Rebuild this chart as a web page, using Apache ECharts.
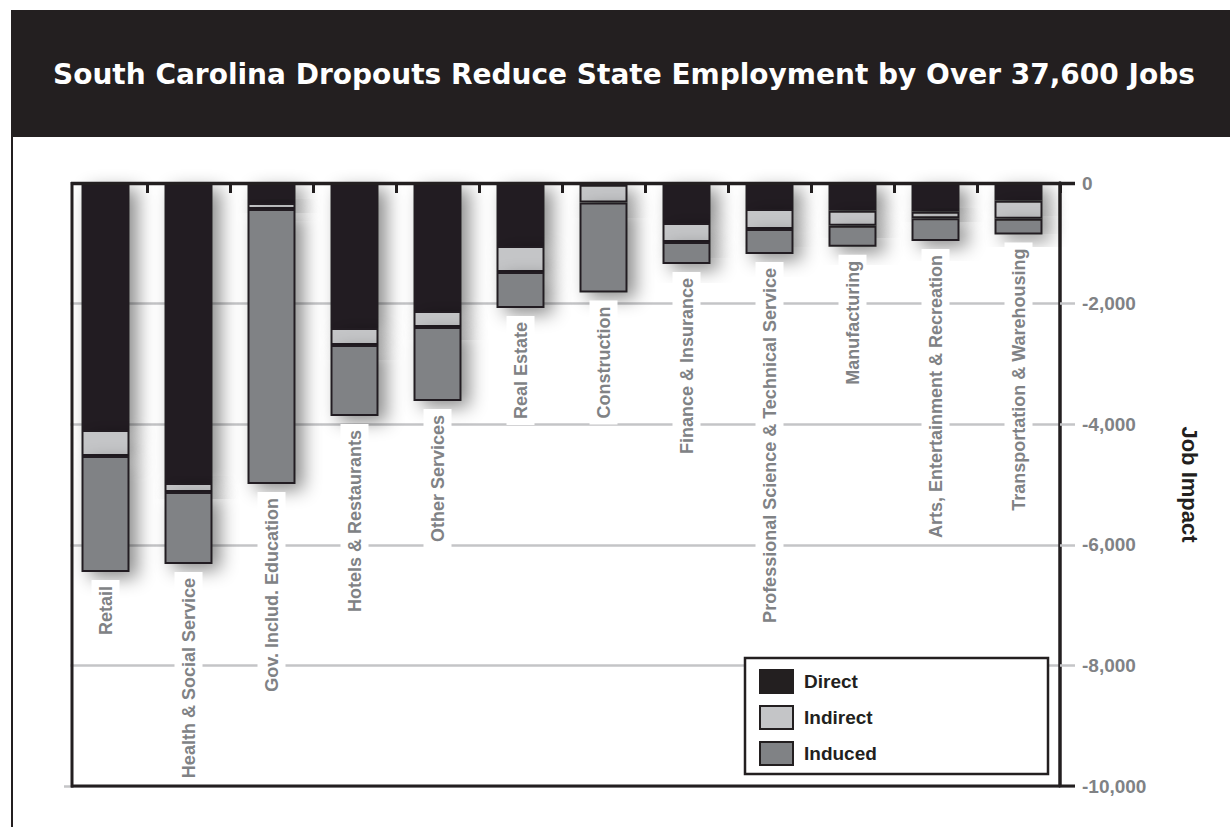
<!DOCTYPE html>
<html>
<head>
<meta charset="utf-8">
<script src="https://cdn.jsdelivr.net/npm/echarts@6/dist/echarts.min.js"></script>
<style>
html,body{margin:0;padding:0;background:#fff;}
#chart{width:1230px;height:827px;}
</style>
</head>
<body>
<div id="chart"></div>
<script>
const titleText = 'South Carolina Dropouts Reduce State Employment by Over 37,600 Jobs';
const categories = ['Retail', 'Health & Social Service', 'Gov. Includ. Education', 'Hotels & Restaurants',
  'Other Services', 'Real Estate', 'Construction', 'Finance & Insurance',
  'Professional Science & Technical Service', 'Manufacturing',
  'Arts, Entertainment & Recreation', 'Transportation & Warehousing'];
const direct   = [-4096, -4975, -332, -2405, -2123, -1045, -30, -663, -431, -459, -476, -294];
const indirect = [-431, -150, -100, -282, -265, -431, -294, -315, -332, -249, -110, -299];
const induced  = [-1924, -1194, -4560, -1177, -1227, -597, -1493, -365, -415, -348, -376, -259];
const yTickValues = [0, -2000, -4000, -6000, -8000, -10000];
const yTickLabels = ['0', '-2,000', '-4,000', '-6,000', '-8,000', '-10,000'];
const seriesNames = ['Direct', 'Indirect', 'Induced'];
const axisName = 'Job Impact';

const DARK = '#231f20';
const LIGHT = '#c4c5c7';
const MID = '#808285';
const FONT = '"Liberation Sans", Arial, sans-serif';
const TFONT = '"DejaVu Sans", sans-serif';

const chart = echarts.init(document.getElementById('chart'), null, {renderer: 'svg'});

const shadow = {shadowBlur: 18, shadowOffsetX: 8, shadowOffsetY: 6, shadowColor: 'rgba(0,0,0,0.45)'};

function barSeries(name, data, color, extra) {
  return Object.assign({
    name: name,
    type: 'bar',
    stack: 'total',
    barWidth: 48,
    data: data,
    itemStyle: Object.assign({color: color, borderColor: DARK, borderWidth: 2}, shadow)
  }, extra || {});
}

const option = {
  animation: false,
  grid: {left: 64, right: 170, top: 183, bottom: 41, containLabel: false},
  xAxis: {
    type: 'category',
    position: 'top',
    data: categories,
    axisLine: {show: false},
    axisTick: {show: true, interval: 0, inside: true, length: 10, lineStyle: {color: DARK, width: 3}},
    axisLabel: {show: false, interval: 0},
    splitLine: {show: false}
  },
  yAxis: {
    type: 'value',
    position: 'right',
    min: -10000,
    max: 0,
    interval: 2000,
    name: axisName,
    nameLocation: 'middle',
    nameRotate: -90,
    nameGap: 118,
    nameTextStyle: {color: DARK, fontFamily: FONT, fontWeight: 'bold', fontSize: 22},
    axisLine: {show: true, onZero: false, lineStyle: {color: DARK, width: 3.5}},
    axisTick: {show: true, length: 15, lineStyle: {color: LIGHT, width: 2.5}},
    splitLine: {show: true, lineStyle: {color: LIGHT, width: 2.5}},
    axisLabel: {
      margin: 22,
      color: MID,
      fontFamily: FONT,
      fontWeight: 'bold',
      fontSize: 19,
      formatter: function (v) {
        const i = yTickValues.indexOf(v);
        return i >= 0 ? yTickLabels[i] : '';
      }
    }
  },
  legend: {
    orient: 'vertical',
    left: 759,
    top: 669,
    padding: 0,
    itemWidth: 33,
    itemHeight: 23,
    itemGap: 11,
    z: 6,
    icon: 'rect',
    data: seriesNames,
    itemStyle: {borderWidth: 2},
    textStyle: {color: DARK, fontFamily: FONT, fontWeight: 'bold', fontSize: 19, padding: [10, 0, 0, 6]}
  },
  series: [
    barSeries(seriesNames[0], direct, DARK),
    barSeries(seriesNames[1], indirect, LIGHT),
    barSeries(seriesNames[2], induced, MID, {
      label: {
        show: true,
        position: 'bottom',
        distance: 8,
        rotate: 90,
        align: 'right',
        verticalAlign: 'middle',
        formatter: '{b}',
        color: MID,
        fontFamily: FONT,
        fontWeight: 'bold',
        fontSize: 18,
        backgroundColor: '#ffffff',
        padding: [5, 6, 5, 6]
      }
    })
  ],
  graphic: [
    {type: 'rect', z: 20, shape: {x: 11, y: 10, width: 1219, height: 127}, style: {fill: DARK}},
    {type: 'text', z: 21, style: {x: 53, y: 74, text: titleText, fill: '#ffffff',
      font: 'bold 28px ' + TFONT, verticalAlign: 'middle'}},
    {type: 'line', z: 20, shape: {x1: 12, y1: 137, x2: 12, y2: 827}, style: {stroke: DARK, lineWidth: 2}},
    {type: 'rect', z: 1, shape: {x: 56, y: 176, width: 14.5, height: 609}, style: {fill: '#ffffff'}},
    {type: 'line', z: 20, shape: {x1: 71, y1: 183.5, x2: 1075, y2: 183.5}, style: {stroke: DARK, lineWidth: 3.5}},
    {type: 'line', z: 20, shape: {x1: 71, y1: 786, x2: 1075, y2: 786}, style: {stroke: DARK, lineWidth: 3}},
    {type: 'line', z: 20, shape: {x1: 72, y1: 182, x2: 72, y2: 787.5}, style: {stroke: DARK, lineWidth: 3}},
    {type: 'rect', z: 5, shape: {x: 745, y: 658, width: 303, height: 116}, style: {fill: '#ffffff', stroke: DARK, lineWidth: 2.5}}
  ]
};
chart.setOption(option);
</script>
</body>
</html>
